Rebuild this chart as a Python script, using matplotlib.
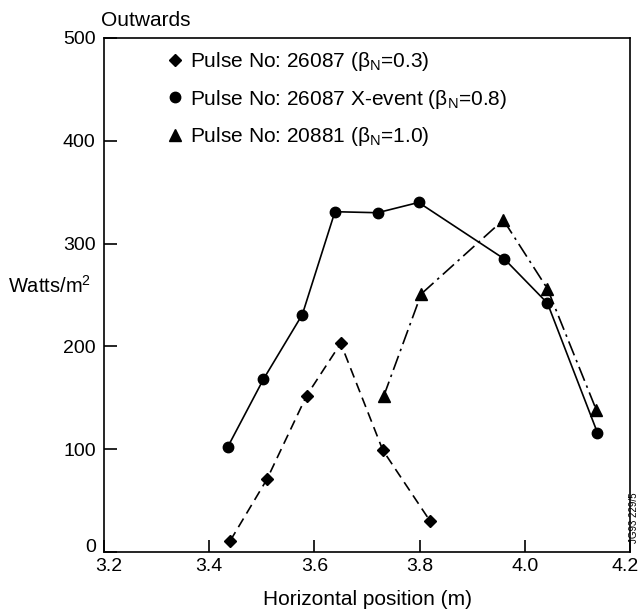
import matplotlib
matplotlib.use("Agg")
import matplotlib.pyplot as plt
import matplotlib.transforms as mtransforms
from matplotlib.lines import Line2D

plt.rcParams['font.family'] = ['Liberation Sans', 'DejaVu Sans']
plt.rcParams['mathtext.fontset'] = 'custom'
plt.rcParams['mathtext.rm'] = 'Liberation Sans'

# Pulse No: 26087 (beta_N = 0.3) - diamantes, tracejado
x_26087 = [3.44, 3.51, 3.585, 3.65, 3.73, 3.82]
w_26087 = [11, 71, 152, 203, 99, 30]

# Pulse No: 26087 X-event (beta_N = 0.8) - circulos, continua
x_xevent = [3.435, 3.503, 3.577, 3.639, 3.72, 3.798, 3.961, 4.043, 4.138]
w_xevent = [102, 168, 231, 331, 330, 340, 285, 242, 116]

# Pulse No: 20881 (beta_N = 1.0) - triangulos, traco-ponto
x_20881 = [3.732, 3.803, 3.959, 4.043, 4.136]
w_20881 = [152, 251, 323, 256, 138]

labels = ['Pulse No: 26087 (β$_\\mathregular{N}$=0.3)',
          'Pulse No: 26087 X-event (β$_\\mathregular{N}$=0.8)',
          'Pulse No: 20881 (β$_\\mathregular{N}$=1.0)']

xticks = [3.2, 3.4, 3.6, 3.8, 4.0, 4.2]
yticks = [0, 100, 200, 300, 400, 500]

fig = plt.figure(figsize=(6.4, 6.12), dpi=100)
ax = fig.add_axes([0.1625, 0.098, 0.822, 0.84])

lw = 1.2
ax.plot(x_26087, w_26087, color='black', lw=lw, ls=(0, (6, 3.5)),
        marker='D', ms=6.5, zorder=3)
ax.plot(x_xevent, w_xevent, color='black', lw=lw, ls='-',
        marker='o', ms=7.5, zorder=3)
ax.plot(x_20881, w_20881, color='black', lw=lw, ls=(0, (9, 3, 1.5, 3)),
        marker='^', ms=8.5, zorder=3)

ax.set_xlim(3.2, 4.2)
ax.set_ylim(0, 500)
ax.set_xticks(xticks)
ax.set_xticklabels([f'{v:.1f}' for v in xticks])
ax.set_yticks(yticks)
ax.tick_params(direction='in', length=9, width=1.2, labelsize=14,
               colors='black')
ax.tick_params(axis='x', pad=4)
ax.tick_params(axis='y', pad=6)
for s in ax.spines.values():
    s.set_linewidth(1.2)


def desloca(lbl, dx, dy):
    # desloca um rotulo em pixels
    lbl.set_transform(lbl.get_transform() +
                      mtransforms.ScaledTranslation(dx / 100, dy / 100,
                                                    fig.dpi_scale_trans))


# "4.2" encostado a borda direita, como no original
last = ax.get_xticklabels()[-1]
last.set_horizontalalignment('right')
desloca(last, 9, 0)
# "0" um pouco acima e "3.2" um pouco a direita do canto
desloca(ax.get_yticklabels()[0], 0, 7)
desloca(ax.get_xticklabels()[0], 5, 0)

ax.set_xlabel('Horizontal position (m)', fontsize=15, labelpad=11)
fig.text(8 / 640, 1 - 286 / 612, 'Watts/m$^\\mathregular{2}$', fontsize=14.5,
         ha='left', va='center')
fig.text(101 / 640, 1 - 21 / 612, 'Outwards', fontsize=15,
         ha='left', va='center')
fig.text(634 / 640, 1 - 518 / 612, 'JG93 229/5', fontsize=7,
         rotation=90, ha='center', va='center')

handles = [Line2D([], [], ls='none', color='black', marker='D', ms=6.5),
           Line2D([], [], ls='none', color='black', marker='o', ms=7.5),
           Line2D([], [], ls='none', color='black', marker='^', ms=8.5)]
ax.legend(handles, labels, loc='upper left', bbox_to_anchor=(0.104, 0.993),
          borderaxespad=0, frameon=False, fontsize=15, handlelength=0.8,
          handletextpad=0.32, labelspacing=0.71)

fig.savefig('out.png', dpi=100)
